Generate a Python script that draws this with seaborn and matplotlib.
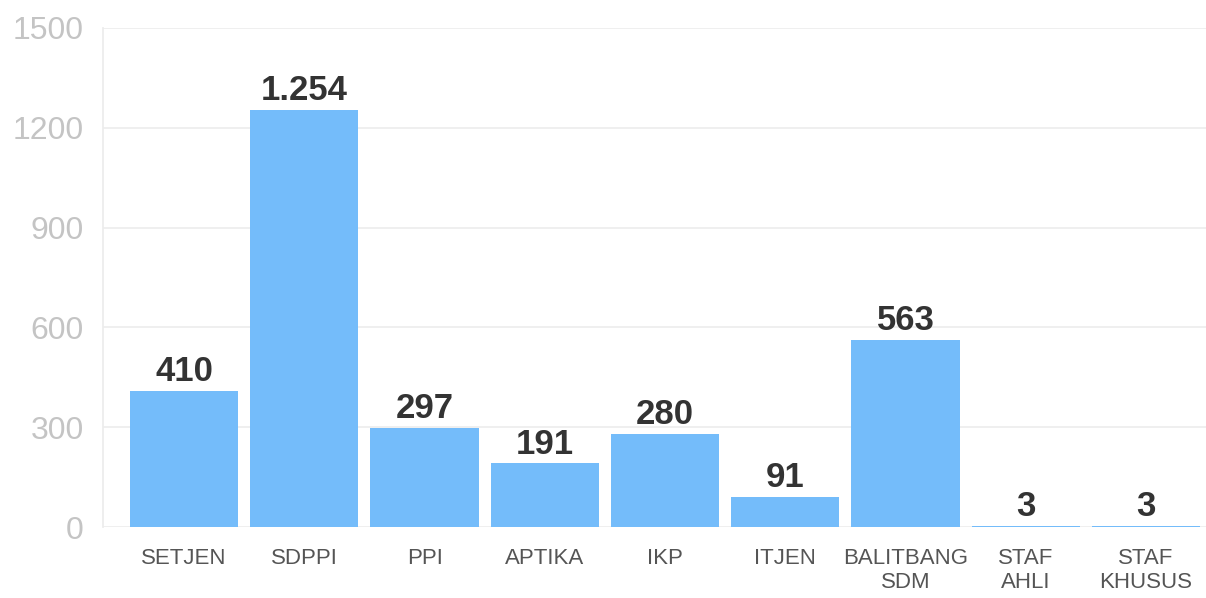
import matplotlib
matplotlib.use("Agg")
import matplotlib.pyplot as plt
import seaborn as sns

# data
units = ["SETJEN", "SDPPI", "PPI", "APTIKA", "IKP", "ITJEN",
         "BALITBANG\nSDM", "STAF\nAHLI", "STAF\nKHUSUS"]
employees = [410, 1254, 297, 191, 280, 91, 563, 3, 3]
y_ticks = [0, 300, 600, 900, 1200, 1500]

sns.set_theme(style="white")
plt.rcParams["font.family"] = ["Liberation Sans", "DejaVu Sans"]

fig = plt.figure(figsize=(12.06, 5.98), dpi=100)
ax = fig.add_axes([0.0854, 0.1187, 0.9146, 0.8345])

sns.barplot(x=units, y=employees, color="#74bcfa", saturation=1,
            width=0.9, linewidth=0, ax=ax)

# value labels with dot as thousands separator (Indonesian style)
value_labels = [f"{v:,}".replace(",", ".") for v in employees]
ax.bar_label(ax.containers[0], labels=value_labels, padding=2,
             fontsize=25, fontweight="bold", color="#333333")

ax.set_ylim(0, 1500)
ax.set_xlim(-0.675, 8.5)
ax.set_yticks(y_ticks)
ax.set_yticklabels([str(t) for t in y_ticks], fontsize=23,
                   color="#c4c4c4", fontweight="light")
ax.tick_params(axis="y", length=0, pad=14)
ax.tick_params(axis="x", length=0, pad=15, labelsize=16,
               labelcolor="#555555")
for lab in ax.get_xticklabels():
    lab.set_linespacing(1.2)

ax.yaxis.grid(True, color="#ececec", linewidth=1.2)
ax.set_axisbelow(True)
for side in ["top", "right", "bottom"]:
    ax.spines[side].set_visible(False)
ax.spines["left"].set_color("#ececec")
ax.set_xlabel("")
ax.set_ylabel("")

fig.savefig("out.png", dpi=100, facecolor="white")
